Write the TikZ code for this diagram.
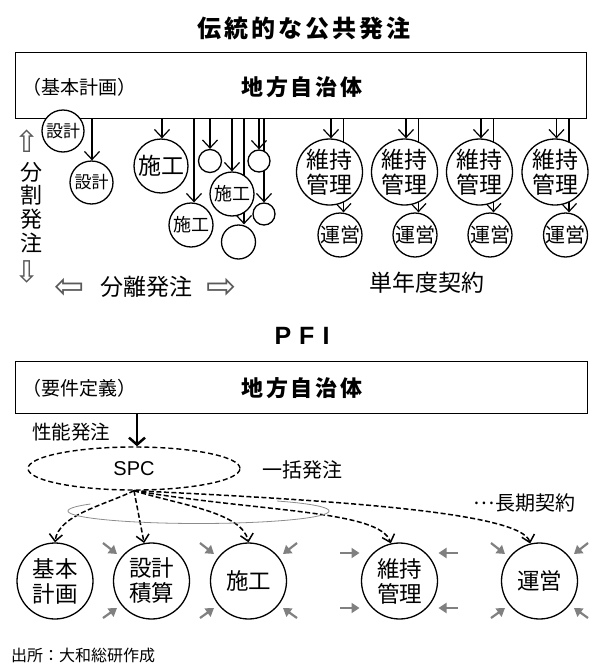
\documentclass[tikz,border=0pt]{standalone}
\usepackage{fontspec}
\usetikzlibrary{arrows.meta,shapes.geometric,calc}
\newfontfamily\jp{Noto Sans CJK JP}
\newfontfamily\dvs{DejaVu Sans}
\newfontfamily\las{Liberation Sans}
\newcommand\fsz[2]{\fontsize{#1}{#2}\selectfont}
\pgfdeclarelayer{bg}
\pgfsetlayers{bg,main}
\begin{document}
\begin{tikzpicture}[x=1pt,y=-1pt,
  txt/.style={inner sep=0pt,anchor=center},
  frame/.style={draw,line width=1.2pt,inner sep=0pt,anchor=north west},
  circ/.style={circle,draw,fill=white,line width=1.3pt,inner sep=0pt,align=center},
  varr/.style={line width=1.2pt,-{Straight Barb[length=8pt,width=15pt]}},
  darr/.style={line width=1.5pt,dash pattern=on 5pt off 2.5pt,-{Straight Barb[length=7pt,width=13pt]}},
  garr/.style={black!50,line width=2.2pt,-{Triangle[length=8pt,width=10pt]}},
  gell/.style={draw=black!45,line width=0.8pt},
  harr/.style={txt,font=\dvs\fsz{30}{30},text=black!65},
  wide/.style={font=\jp\bfseries\fsz{#1}{#1}\addfontfeatures{LetterSpace=13}},
]
\useasboundingbox (0,0) rectangle (592,664);

% ---------------- traditional ----------------
\node[txt,wide=24] (title1) at (304,28) {伝統的な公共発注};
\node[frame,minimum width=571pt,minimum height=66pt] (r1) at (15,52) {};
\node[txt,font=\jp\fsz{19}{19}] (p1) at (80,87) {（基本計画）};
\node[txt,wide=22] (g1) at (302,87) {地方自治体};

\node[circ,minimum size=42pt,font=\jp\fsz{17}{17}] (d1) at (63,131) {設計};
\node[circ,minimum size=43pt,font=\jp\fsz{17}{17}] (d2) at (91.5,182.5) {設計};
\node[circ,minimum size=54pt,font=\jp\fsz{23}{23}] (k1) at (161,166) {施工};
\node[circ,minimum size=44pt,font=\jp\fsz{18}{18}] (k2) at (191,225) {施工};
\node[circ,minimum size=44pt,font=\jp\fsz{18}{18}] (k3) at (232,194) {施工};
\node[circ,minimum size=23pt] (e1) at (210,161) {};
\node[circ,minimum size=22pt] (e2) at (259,161) {};
\node[circ,minimum size=22pt] (e3) at (264,214) {};
\node[circ,minimum size=34pt] (e4) at (238.5,242) {};

\foreach \i/\cx in {1/329.5,2/404.5,3/479.5,4/555}{
  \node[circ,minimum size=66pt,inner sep=-4pt,font=\jp\fsz{23}{25}] (m\i) at (\cx,172) {維持\\管理};
  \node[circ,minimum size=44pt,font=\jp\fsz{20}{20}] (u\i) at (\cx+10.5,235) {運営};
}

\begin{pgfonlayer}{bg}
  \foreach \n/\x/\t in {a/92/d2,b/162/k1,c/194/k2,d/210/e1,e/232/k3,f/244/e4,g/259/e2,h/264/e3}{
    \coordinate (s\n) at (\x,118);
    \draw[varr] (s\n) -- (s\n |- \t.north);
  }
  \foreach \i/\cx in {1/329.5,2/404.5,3/479.5,4/555}{
    \coordinate (sm\i) at (\cx+1.5,118);
    \coordinate (su\i) at (\cx+14,118);
    \draw[varr] (sm\i) -- (sm\i |- m\i.north);
    \draw[varr] (su\i) -- (su\i |- u\i.north);
  }
\end{pgfonlayer}

\node[harr] (up) at (27.5,141) {⇧};
\node[txt,font=\jp\fsz{22}{23.7},align=center] (vt) at (31,207.5) {分\\割\\発\\注};
\node[harr] (dn) at (27.5,272) {⇩};
\node[harr,font=\dvs\fsz{36}{36}] (lf) at (70,288) {⇦};
\node[txt,font=\jp\fsz{23}{23}] (bun) at (146.5,287) {分離発注};
\node[harr,font=\dvs\fsz{36}{36}] (rt) at (222,288) {⇨};
\node[txt,font=\jp\fsz{23}{23}] (tan) at (426.5,283) {単年度契約};

% ---------------- PFI ----------------
\node[txt,font=\las\bfseries\fsz{25}{25}] (title2) at (302,336) {P\hspace{8pt}F\hspace{8pt}I};
\node[frame,minimum width=572pt,minimum height=52pt] (r2) at (15,361) {};
\node[txt,font=\jp\fsz{19}{19}] (p2) at (80,388) {（要件定義）};
\node[txt,wide=22] (g2) at (302,388) {地方自治体};
\node[txt,font=\jp\fsz{19.5}{19.5}] (perf) at (71,432) {性能発注};
\node[ellipse,draw,dash pattern=on 5pt off 3pt,line width=1.4pt,fill=white,minimum width=212pt,minimum height=43pt,inner sep=0pt,font=\las\fsz{20}{20}] (spc) at (134,468.5) {SPC};
\coordinate (q) at (137,413);
\draw[line width=2.5pt,-{Straight Barb[length=7pt,width=16pt]}] (q) -- (q |- spc.north);
\node[txt,font=\jp\fsz{20}{20}] (ikk) at (302,470) {一括発注};
\node[txt,font=\jp\fsz{20}{20}] (chk) at (524.5,503) {\raisebox{0.3em}{…}長期契約};

\draw[gell] plot[domain=180:214,samples=20] ({198.5+130.5*cos(\x)},{511+12.5*sin(\x)});
\draw[gell] plot[domain=307:360,samples=25] ({198.5+130.5*cos(\x)},{511+12.5*sin(\x)});

\node[circ,minimum size=76pt,font=\jp\fsz{22.5}{25}] (kb) at (55,581) {基本\\計画};
\node[circ,minimum size=76pt,font=\jp\fsz{22.5}{25}] (sk) at (151.5,581) {設計\\積算};
\node[circ,minimum size=76pt,font=\jp\fsz{22.5}{25}] (se) at (248.5,581) {施工};
\node[circ,minimum size=76pt,font=\jp\fsz{22.5}{25}] (ij) at (399.5,581) {維持\\管理};
\node[circ,minimum size=76pt,font=\jp\fsz{22.5}{25}] (un) at (539.5,581) {運営};

\draw[darr] (spc.south) .. controls (105,505) and (58,515) .. (kb.north);
\draw[darr] (spc.south) -- (sk.101);
\draw[darr] (spc.south) .. controls (180,505) and (242,512) .. (se.north);
\draw[darr] (spc.south) .. controls (260,512) and (380,510) .. (ij.103);
\draw[darr] (spc.south) .. controls (330,500) and (522,512) .. (un.104);

\draw[gell] plot[domain=0:180,samples=60] ({198.5+130.5*cos(\x)},{511+12.5*sin(\x)});

% gray inward arrows
\foreach \n in {sk,se,un}{
  \draw[garr] ($(\n.center)+(-48.5,-38)$) -- ($(\n.center)+(-34.5,-27)$);
  \draw[garr] ($(\n.center)+(-48.5,37)$) -- ($(\n.center)+(-34.5,27)$);
}
\foreach \n in {se,un}{
  \draw[garr] ($(\n.center)+(48.5,-38)$) -- ($(\n.center)+(34.5,-27)$);
  \draw[garr] ($(\n.center)+(48.5,37)$) -- ($(\n.center)+(34.5,27)$);
}
\draw[garr] ($(ij.center)+(-59.5,-28)$) -- ($(ij.center)+(-40,-28)$);
\draw[garr] ($(ij.center)+(-59.5,27)$) -- ($(ij.center)+(-40,27)$);
\draw[garr] ($(ij.center)+(58.5,-28)$) -- ($(ij.center)+(39,-28)$);
\draw[garr] ($(ij.center)+(58.5,27)$) -- ($(ij.center)+(39,27)$);

\node[txt,anchor=west,font=\jp\fsz{16}{16}] (src) at (11,655) {出所：大和総研作成};
\end{tikzpicture}
\end{document}
